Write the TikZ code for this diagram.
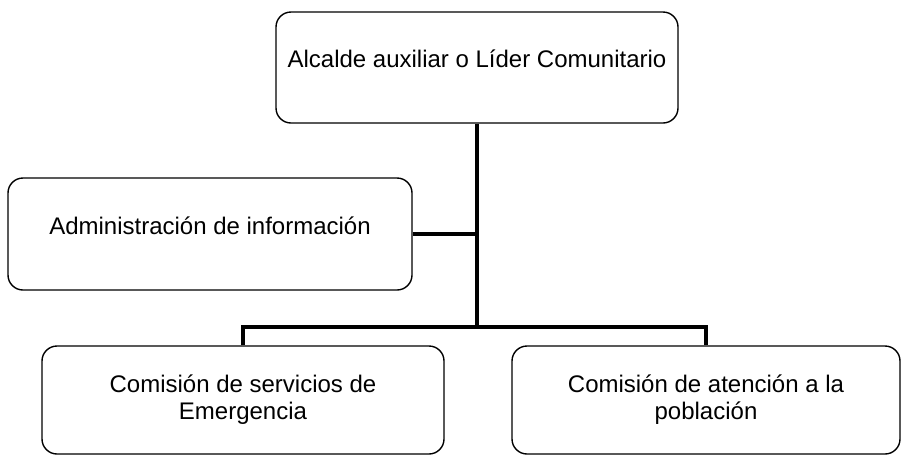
\documentclass[tikz,border=0pt]{standalone}
\usepackage{fontspec}
\setmainfont{Liberation Sans}
\usetikzlibrary{positioning}

\begin{document}
\begin{tikzpicture}[x=1pt,y=-1pt,
  main box/.style={rectangle,rounded corners=15pt,draw,line width=1.4pt,fill=white,
    align=center,inner sep=4pt,font=\fontsize{24}{27}\selectfont},
  high text/.style={text depth=17pt},
  link line/.style={draw,line width=4pt}]

  \useasboundingbox (0,0) rectangle (902,456);

  \node[main box,high text,minimum width=402pt,minimum height=111pt] (top) at (477,67.5)
    {Alcalde auxiliar o Líder Comunitario};
  \node[main box,high text,minimum width=404pt,minimum height=112pt] (admin)
    [below of=top,node distance=166.5pt,xshift=-267pt] {Administración de información};
  \node[main box,minimum width=402pt,minimum height=108pt] (emerg)
    [below of=admin,node distance=166pt,xshift=33pt] {Comisión de servicios de\\Emergencia};
  \node[main box,minimum width=388pt,minimum height=108pt] (pobl)
    [right of=emerg,node distance=463pt] {Comisión de atención a la\\población};

  \coordinate (split) at (top.south |- 0,327);

  \path[link line]
    (top.south) -- (split)
    (admin.east) -- (admin.east -| top.south)
    (emerg.north) |- (split) -| (pobl.north)
    ;

\end{tikzpicture}
\end{document}
